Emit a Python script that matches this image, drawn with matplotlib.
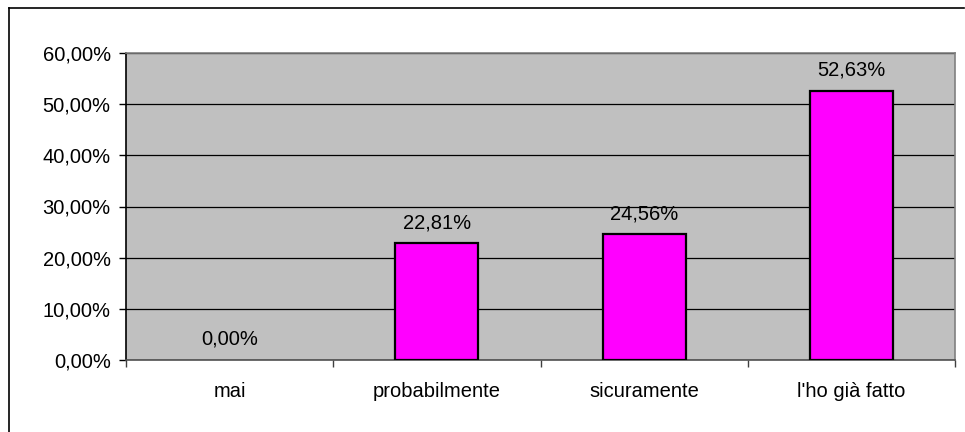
import matplotlib
matplotlib.use("Agg")
import matplotlib.pyplot as plt
from matplotlib.ticker import FuncFormatter, FixedLocator, MultipleLocator
from matplotlib.lines import Line2D

# data
categories = ["mai", "probabilmente", "sicuramente", "l'ho già fatto"]
values = [0.00, 22.81, 24.56, 52.63]

plt.rcParams['font.family'] = ['Liberation Sans', 'DejaVu Sans']
FS = 14.5


def it_pct(v, pos=None):
    return f"{v:.2f}".replace('.', ',') + '%'


W, H = 965, 432
fig = plt.figure(figsize=(W / 100, H / 100), dpi=100)

# outer chart frame (top and left visible only)
fig.add_artist(Line2D([9 / W, 964 / W], [1 - 8 / H, 1 - 8 / H], color='black', lw=1.2))
fig.add_artist(Line2D([9 / W, 9 / W], [0, 1 - 8 / H], color='black', lw=1.2))

left, right, top, bottom = 126, 955, 53, 360
ax = fig.add_axes([left / W, 1 - bottom / H, (right - left) / W, (bottom - top) / H])
ax.set_facecolor('#C0C0C0')

x = [i + 0.5 for i in range(len(categories))]
edge_w = [0 if v == 0 else 1.6 for v in values]
ax.bar(x, values, width=0.4, color='#FF00FF', edgecolor='black', linewidth=edge_w, zorder=3)

for xi, v in zip(x, values):
    ax.annotate(it_pct(v), (xi, v), xytext=(0, 8), textcoords='offset points',
                ha='center', va='bottom', fontsize=FS, color='black')

ax.set_xlim(0, len(categories))
ax.set_ylim(0, 60)
ax.yaxis.set_major_locator(MultipleLocator(10))
ax.yaxis.set_major_formatter(FuncFormatter(it_pct))
ax.grid(axis='y', color='black', lw=0.9, zorder=1)
ax.set_axisbelow(True)

# category ticks at boundaries, labels at centers
ax.xaxis.set_major_locator(FixedLocator(range(len(categories) + 1)))
ax.xaxis.set_minor_locator(FixedLocator(x))
ax.set_xticklabels([])
ax.set_xticklabels(categories, minor=True)
ax.tick_params(axis='x', which='major', length=5, width=1, color='#404040', direction='out')
ax.tick_params(axis='x', which='minor', length=0, pad=16, labelsize=FS)
ax.tick_params(axis='y', length=5, width=1, color='black', labelsize=FS, pad=6)

ax.spines['left'].set_color('black')
ax.spines['bottom'].set_color('#505050')
ax.spines['top'].set_color('#808080')
ax.spines['right'].set_color('#808080')
for s in ax.spines.values():
    s.set_linewidth(1.2)

fig.savefig('out.png', dpi=100)
